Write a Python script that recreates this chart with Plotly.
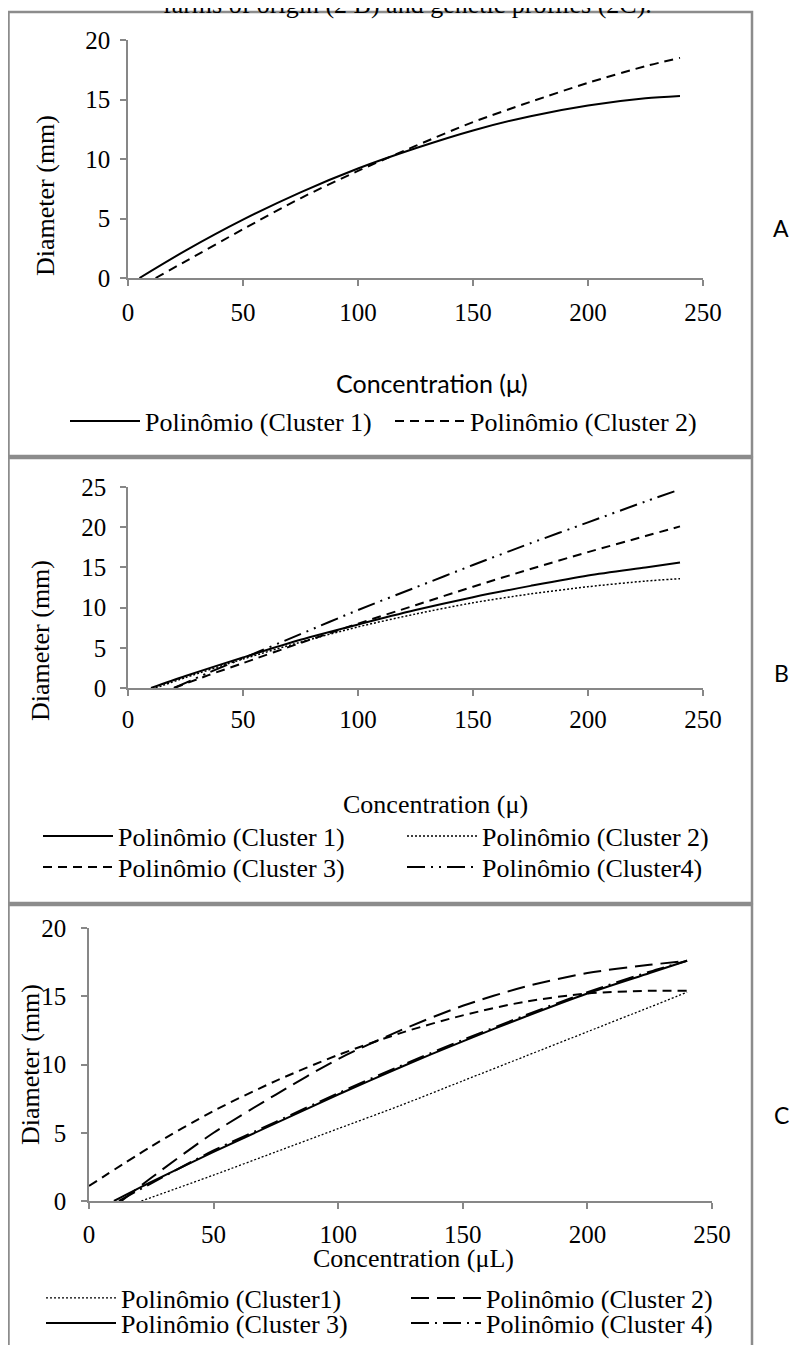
import plotly.graph_objects as go

W, H = 797, 1345
OFF = 8  # page body margin of the browser: positions below are given in screen pixels
SERIF = "Liberation Serif"
SANS = "Lato"
GRAY = "#878787"

# ---------------- data ----------------
# Panel A
A_conc_c1 = [5, 25, 50, 75, 100, 125, 150, 175, 200, 225, 240]
A_diam_c1 = [0, 2.3, 4.9, 7.2, 9.2, 10.9, 12.4, 13.6, 14.5, 15.1, 15.3]
A_conc_c2 = [12, 25, 50, 75, 100, 125, 150, 175, 200, 225, 240]
A_diam_c2 = [0, 1.4, 4.1, 6.7, 9.0, 11.1, 13.1, 14.8, 16.4, 17.8, 18.5]

# Panel B
B_conc_c1 = [10, 25, 50, 75, 100, 125, 150, 175, 200, 225, 240]
B_diam_c1 = [0, 1.5, 3.8, 6.0, 7.9, 9.7, 11.3, 12.7, 14.0, 15.0, 15.6]
B_conc_c2 = [12, 25, 50, 75, 100, 125, 150, 175, 200, 225, 240]
B_diam_c2 = [0, 1.3, 3.6, 5.7, 7.6, 9.2, 10.6, 11.7, 12.6, 13.3, 13.6]
B_conc_c3 = [20, 35, 50, 75, 100, 125, 150, 175, 200, 225, 240]
B_diam_c3 = [0, 1.6, 3.1, 5.6, 8.0, 10.3, 12.6, 14.8, 16.9, 18.9, 20.1]
B_conc_c4 = [20, 35, 50, 75, 100, 125, 150, 175, 200, 225, 240]
B_diam_c4 = [0, 1.9, 3.7, 6.7, 9.7, 12.5, 15.3, 18.0, 20.6, 23.2, 24.7]

# Panel C
C_conc_c1 = [21, 50, 75, 100, 125, 150, 175, 200, 225, 240]
C_diam_c1 = [0, 1.9, 3.6, 5.3, 7.0, 8.8, 10.6, 12.4, 14.2, 15.3]
C_conc_c2 = [13, 25, 50, 75, 100, 125, 150, 175, 200, 225, 240]
C_diam_c2 = [0, 1.7, 5.0, 7.8, 10.4, 12.5, 14.3, 15.7, 16.7, 17.3, 17.6]
C_conc_c3 = [10, 25, 50, 75, 100, 125, 150, 175, 200, 225, 240]
C_diam_c3 = [0, 1.4, 3.6, 5.7, 7.8, 9.8, 11.7, 13.5, 15.2, 16.7, 17.6]
C_conc_c4 = [12, 25, 50, 75, 100, 125, 150, 175, 200, 225, 240]
C_diam_c4 = [0, 1.3, 3.7, 5.8, 7.9, 9.9, 11.8, 13.6, 15.3, 16.8, 17.6]
C_conc_c5 = [0, 25, 50, 75, 100, 125, 150, 175, 200, 225, 240]
C_diam_c5 = [1.1, 4.0, 6.6, 8.8, 10.7, 12.3, 13.6, 14.6, 15.2, 15.4, 15.4]

x_ticks = [0, 50, 100, 150, 200, 250]
yA_ticks = [0, 5, 10, 15, 20]
yB_ticks = [0, 5, 10, 15, 20, 25]
yC_ticks = [0, 5, 10, 15, 20]

caption = "farms of origin (2 B) and genetic profiles (2C)."


def fx(px):
    return (px - OFF) / W


def fy(px):
    return 1 - (px - OFF) / H


fig = go.Figure()


def add(x, y, name, xa, ya, leg, dash="solid", width=2.0, show=True):
    fig.add_trace(go.Scatter(
        x=x, y=y, mode="lines", name=name, xaxis=xa, yaxis=ya,
        legend=leg, showlegend=show, hoverinfo="skip",
        line=dict(color="black", width=width, dash=dash, shape="spline", smoothing=0.8),
    ))


# A
add(A_conc_c1, A_diam_c1, "Polinômio (Cluster 1)", "x", "y", "legend")
add(A_conc_c2, A_diam_c2, "Polinômio (Cluster 2)", "x", "y", "legend", dash="9px,6px")
# B
add(B_conc_c1, B_diam_c1, "Polinômio (Cluster 1)", "x2", "y2", "legend2")
add(B_conc_c2, B_diam_c2, "Polinômio (Cluster 2)", "x2", "y2", "legend2", dash="2px,2px", width=1.5)
add(B_conc_c3, B_diam_c3, "Polinômio (Cluster 3)", "x2", "y2", "legend3", dash="9px,6px")
add(B_conc_c4, B_diam_c4, "Polinômio (Cluster4)", "x2", "y2", "legend3", dash="18px,6px,2px,6px,2px,6px")
# C
add(C_conc_c1, C_diam_c1, "Polinômio (Cluster1)", "x3", "y3", "legend4", dash="2px,2px", width=1.3)
add(C_conc_c2, C_diam_c2, "Polinômio (Cluster 2)", "x3", "y3", "legend4", dash="18px,8px")
add(C_conc_c3, C_diam_c3, "Polinômio (Cluster 3)", "x3", "y3", "legend5")
add(C_conc_c4, C_diam_c4, "Polinômio (Cluster 4)", "x3", "y3", "legend5", dash="18px,6px,2px,6px")
add(C_conc_c5, C_diam_c5, "Polinômio", "x3", "y3", "legend5", dash="9px,6px", show=False)


def xaxis(dom, anchor, standoff):
    return dict(domain=dom, range=[0, 250], tickvals=x_ticks, anchor=anchor,
                showline=True, linecolor=GRAY, linewidth=1.5, ticks="outside",
                ticklen=6, tickwidth=1.5, tickcolor=GRAY, showgrid=False,
                zeroline=False, ticklabelstandoff=standoff, automargin=False,
                tickfont=dict(family=SERIF, size=25, color="black"))


def yaxis(dom, rng, tv, anchor, standoff):
    return dict(domain=dom, range=rng, tickvals=tv, anchor=anchor,
                showline=True, linecolor=GRAY, linewidth=1.5, ticks="outside",
                ticklen=6, tickwidth=1.5, tickcolor=GRAY, showgrid=False,
                zeroline=False, ticklabelstandoff=standoff, automargin=False,
                tickfont=dict(family=SERIF, size=25, color="black"))


def legend(xpx, ypx, ew):
    return dict(orientation="h", x=fx(xpx), y=fy(ypx), xanchor="left", yanchor="middle",
                bgcolor="rgba(0,0,0,0)", itemwidth=70, entrywidth=ew, entrywidthmode="pixels",
                font=dict(family=SERIF, size=26, color="black"), traceorder="normal")


frames = []
for top, bot in [(12, 456), (458, 903), (905, 1390)]:
    frames.append(dict(type="rect", xref="paper", yref="paper", x0=fx(8.5), x1=fx(752),
                       y0=fy(bot), y1=fy(top), line=dict(color="#8c8c8c", width=2.5),
                       fillcolor="rgba(0,0,0,0)", layer="below"))

ann = []


def text(t, xpx, ypx, size=26, fam=SERIF, angle=0, xa="center", ya="middle"):
    ann.append(dict(text=t, x=fx(xpx), y=fy(ypx), xref="paper", yref="paper",
                    showarrow=False, textangle=angle, xanchor=xa, yanchor=ya,
                    font=dict(family=fam, size=size, color="black")))


text(caption, 407, 21, ya="bottom")
text("Diameter (mm)", 46, 196, angle=-90)
text("Diameter (mm)", 40, 641, angle=-90)
text("Diameter (mm)", 30, 1065, angle=-90)
text("Concentration (μ)", 432, 383, size=25, fam=SANS)
text("Concentration (μ)", 435, 805)
text("Concentration (μL)", 413, 1258)
text("A", 781, 228, size=23, fam=SANS)
text("B", 781, 673, size=23, fam=SANS)
text("C", 781, 1115, size=23, fam=SANS)

fig.update_layout(
    width=W, height=H, autosize=False,
    margin=dict(l=0, r=0, t=0, b=0, pad=0, autoexpand=False),
    font=dict(family=SERIF, size=26, color="black"),
    paper_bgcolor="white", plot_bgcolor="white", showlegend=True,
    xaxis=xaxis([fx(128), fx(703)], "y", 5),
    yaxis=yaxis([fy(278), fy(40)], [0, 20], yA_ticks, "x", 5),
    xaxis2=xaxis([fx(128), fx(703)], "y2", 2),
    yaxis2=yaxis([fy(688), fy(487)], [0, 25], yB_ticks, "x2", 9),
    xaxis3=xaxis([fx(89), fx(712)], "y3", 4),
    yaxis3=yaxis([fy(1201), fy(928)], [0, 20], yC_ticks, "x3", 10),
    legend=legend(65, 421, 240),
    legend2=legend(38, 836, 279),
    legend3=legend(38, 867, 279),
    legend4=legend(41, 1298, 280),
    legend5=legend(41, 1323, 280),
    shapes=frames,
    annotations=ann,
)

fig.write_html("out.html")
